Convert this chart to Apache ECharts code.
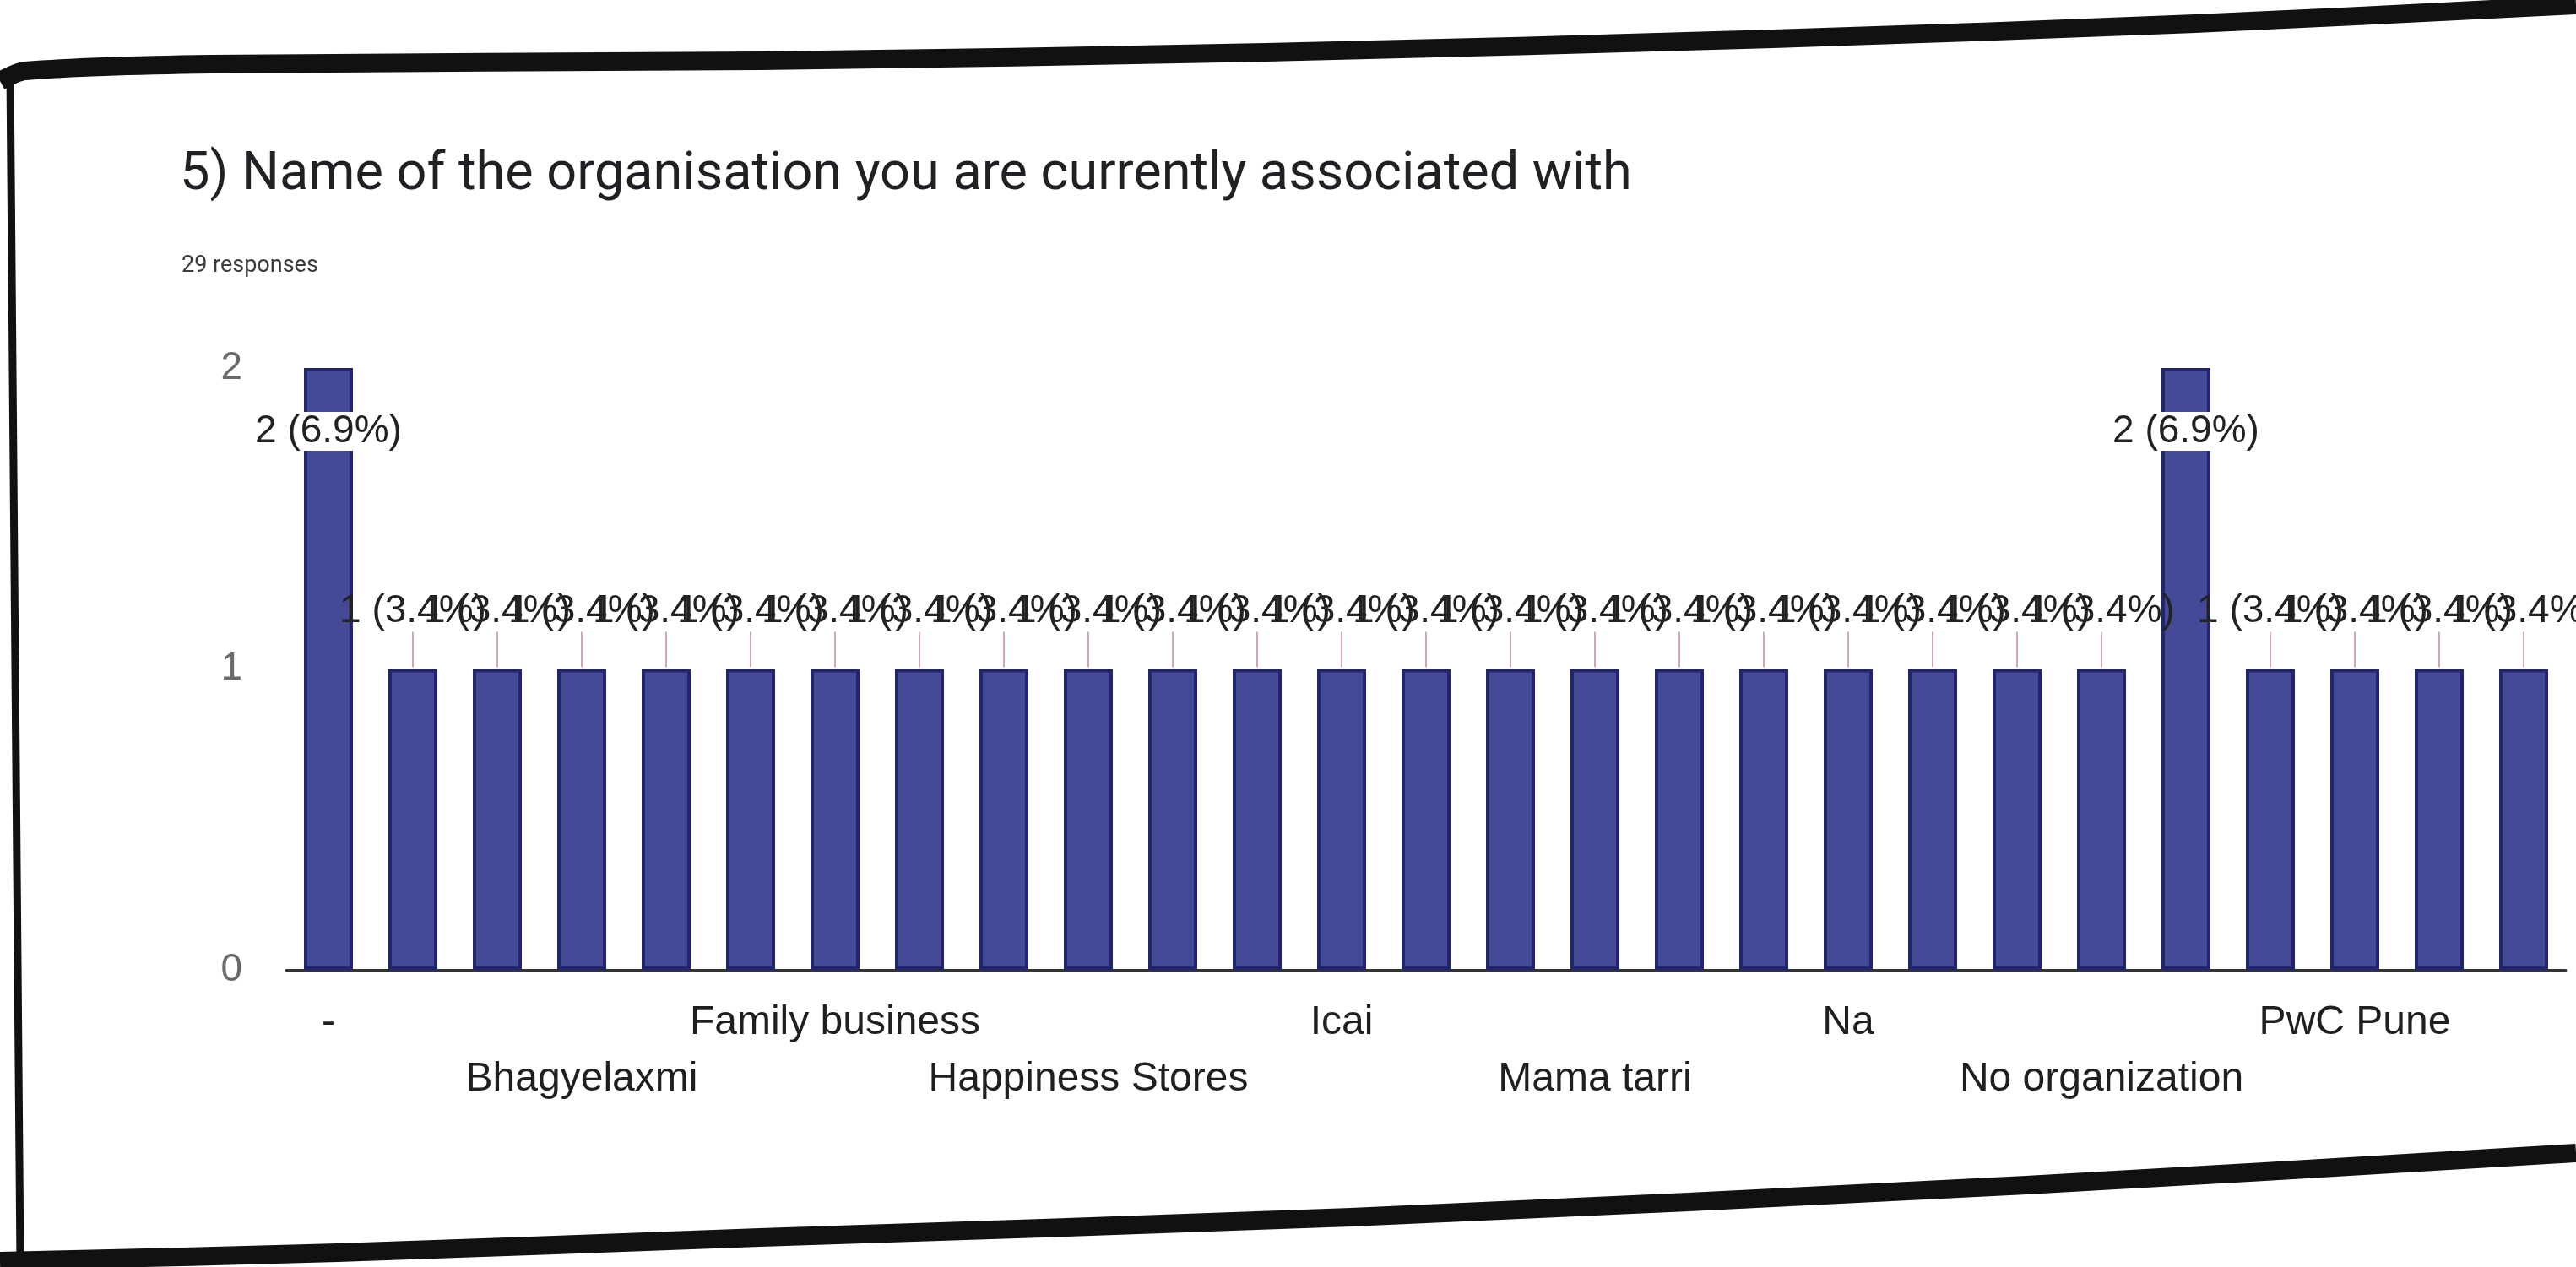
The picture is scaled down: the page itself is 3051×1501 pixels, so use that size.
<!DOCTYPE html>
<html>
<head>
<meta charset="utf-8">
<script src="https://cdn.jsdelivr.net/npm/echarts@6/dist/echarts.min.js"></script>
<style>
html,body{margin:0;padding:0;background:#ffffff;}
#chart{width:3051px;height:1501px;}
</style>
</head>
<body>
<div id="chart"></div>
<script>
// ---- data ----
const titleText = '5) Name of the organisation you are currently associated with';
const totalResponses = 29;
const categories = ['-', 'Accenture', 'Axis Bank', 'Bhagyelaxmi', 'Deloitte', 'EY', 'Family business',
  'Gupta Traders', 'HDFC Bank', 'Happiness Stores', 'Hotel Sai', 'ICICI Bank', 'Icai', 'Infosys', 'KPMG',
  'Mama tarri', 'Morgan Stanley', 'N/A', 'Na', 'Nil', 'No', 'No organization', 'None', 'Not working',
  'PwC Pune', 'Reliance', 'TCS'];
const counts = [2, 1, 1, 1, 1, 1, 1, 1, 1, 1, 1, 1, 1, 1, 1, 1, 1, 1, 1, 1, 1, 1, 2, 1, 1, 1, 1];
const yTicks = [0, 1, 2];

// ---- chart ----
const chart = echarts.init(document.getElementById('chart'));
const yMax = yTicks[yTicks.length - 1];
const LABEL_FONT = '"Liberation Sans", Arial, sans-serif';

function pct(v) { return (v / totalResponses * 100).toFixed(1); }

const barData = counts.map(v => {
  if (v >= yMax) {
    return {
      value: v,
      label: {
        position: 'insideTop',
        distance: 52,
        backgroundColor: '#ffffff',
        padding: [0, 2]
      }
    };
  }
  return v;
});

const option = {
  backgroundColor: '#ffffff',
  animation: false,
  title: [
    {
      text: titleText,
      left: 208, top: 172,
      textStyle: { fontFamily: 'Roboto, sans-serif', fontSize: 63, fontWeight: 'normal', color: '#202124', lineHeight: 63 }
    },
    {
      text: totalResponses + ' responses',
      left: 210, top: 297,
      textStyle: { fontFamily: 'Roboto, sans-serif', fontSize: 27, fontWeight: 'normal', color: '#3c3c3c', lineHeight: 27 }
    }
  ],
  grid: { left: 339, right: 12, top: 436, bottom: 352, containLabel: false, outerBoundsMode: 'none' },
  xAxis: {
    type: 'category',
    data: categories,
    axisLine: { show: true, lineStyle: { color: '#333333', width: 3 } },
    axisTick: { show: false },
    axisLabel: {
      interval: 2,
      margin: 29,
      fontFamily: LABEL_FONT,
      fontSize: 48,
      lineHeight: 67,
      color: '#1f1f1f',
      formatter: function (value, index) {
        return (Math.round(index / 3) % 2 === 1) ? '\n' + value : value;
      }
    }
  },
  yAxis: {
    type: 'value',
    min: 0, max: yMax, interval: 1,
    axisLine: { show: false },
    axisTick: { show: false },
    splitLine: { show: false },
    axisLabel: { margin: 52, fontFamily: LABEL_FONT, fontSize: 46, color: '#6a6a6a' }
  },
  series: [
    {
      type: 'bar',
      data: barData,
      barWidth: 58,
      itemStyle: { color: '#454a98', borderColor: '#20256c', borderWidth: 4 },
      z: 2,
      label: {
        show: true,
        position: 'top',
        distance: 45,
        fontFamily: LABEL_FONT,
        fontSize: 46,
        lineHeight: 46,
        color: '#222222',
        formatter: p => p.value + ' (' + pct(p.value) + '%)'
      }
    },
    {
      type: 'custom',
      z: 1,
      silent: true,
      data: counts.map((v, i) => [i, v]),
      renderItem: function (params, api) {
        const v = api.value(1);
        if (v >= yMax) return null;
        const p = api.coord([api.value(0), v]);
        return {
          type: 'line',
          shape: { x1: p[0], y1: p[1] - 2, x2: p[0], y2: p[1] - 44 },
          style: { stroke: '#d2a9a9', lineWidth: 2 }
        };
      }
    }
  ],
  graphic: [
    {
      type: 'polyline',
      z: 100,
      shape: { points: [[0, 96], [30, 84], [250, 76], [900, 72], [1500, 62], [2100, 46], [2600, 28], [3051, 6]], smooth: 0.3 },
      style: { stroke: '#111111', lineWidth: 22, fill: null }
    },
    {
      type: 'line',
      z: 100,
      shape: { x1: 12, y1: 86, x2: 24, y2: 1495 },
      style: { stroke: '#111111', lineWidth: 9 }
    },
    {
      type: 'polyline',
      z: 100,
      shape: { points: [[0, 1494], [400, 1484], [900, 1466], [1600, 1442], [2400, 1404], [3051, 1366]], smooth: 0.3 },
      style: { stroke: '#111111', lineWidth: 22, fill: null }
    }
  ]
};
chart.setOption(option);
</script>
</body>
</html>
